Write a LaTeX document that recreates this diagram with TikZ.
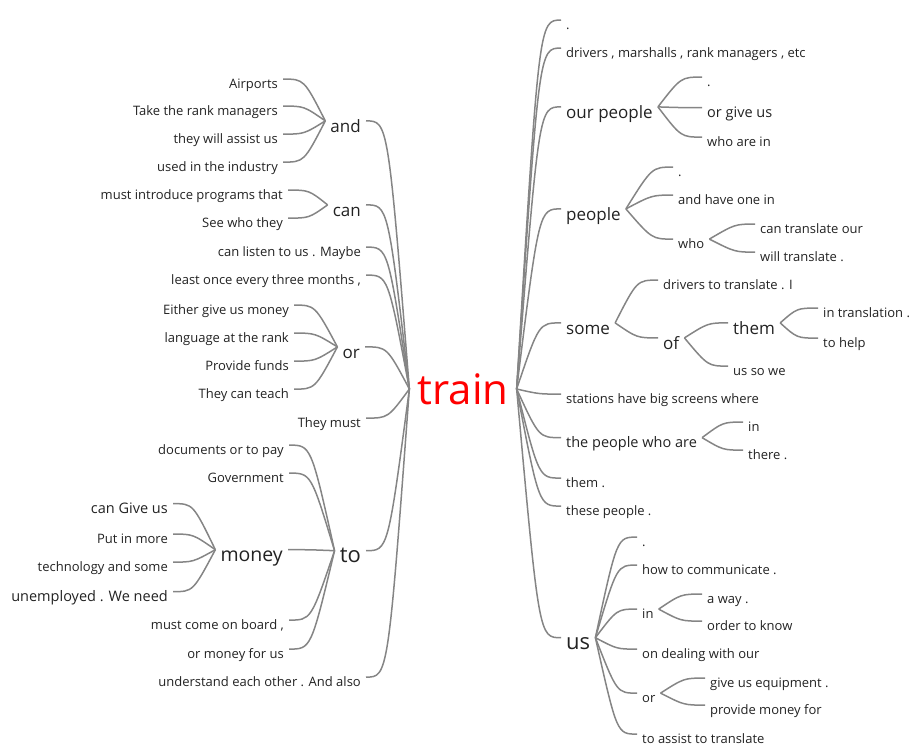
\documentclass[tikz,border=0pt]{standalone}
\usepackage{fontspec}
\setmainfont{Open Sans}
\usepackage{xcolor}
\usepackage{tikz}

\definecolor{linkgray}{HTML}{858585}
\definecolor{wordcol}{HTML}{222222}

\tikzset{
  wbase/.style={text=wordcol, inner xsep=5pt, inner ysep=1pt, text depth=0pt},
  word/.style={wbase, text height=18.2pt, yshift=3.9pt, font=\fontsize{13}{16}\selectfont},
  wordm/.style={wbase, text height=20.3pt, yshift=4.35pt, font=\fontsize{14.5}{17}\selectfont},
  hub/.style={wbase, text height=23.8pt, yshift=5.1pt, font=\fontsize{17}{20}\selectfont},
  bigword/.style={wbase, text height=24.2pt, yshift=3.3pt, font=\fontsize{22}{26}\selectfont},
  rootword/.style={text=red, inner xsep=8pt, inner ysep=1pt, font=\fontsize{42}{48}\selectfont},
  toleft/.style={anchor=east},
  toright/.style={anchor=west},
  link/.style={draw=linkgray, line width=1.5pt}
}

\begin{document}
\begin{tikzpicture}[x=1pt,y=-1pt]
  \useasboundingbox (0,0) rectangle (917,751);

  % root
  \node[rootword] (train) at (463,389) {train};

  % left side
  \node[hub,toleft] (and) at (366,126) {and};
  \node[word,toleft] (a1) at (283,83) {Airports};
  \node[word,toleft] (a2) at (283,110) {Take the rank managers};
  \node[word,toleft] (a3) at (283,138) {they will assist us};
  \node[word,toleft] (a4) at (283,166) {used in the industry};

  \node[hub,toleft] (can) at (366,210) {can};
  \node[word,toleft] (c1) at (288,194) {must introduce programs that};
  \node[word,toleft] (c2) at (288,222) {See who they};

  \node[word,toleft] (l1) at (366,251) {can listen to us . Maybe};
  \node[word,toleft] (l2) at (366,279) {least once every three months ,};

  \node[hub,toleft] (or) at (365,352) {or};
  \node[word,toleft] (o1) at (294,309) {Either give us money};
  \node[word,toleft] (o2) at (294,337) {language at the rank};
  \node[word,toleft] (o3) at (294,365) {Provide funds};
  \node[word,toleft] (o4) at (294,393) {They can teach};

  \node[word,toleft] (l3) at (366,422) {They must};

  \node[bigword,toleft] (to) at (366,554) {to};
  \node[word,toleft] (t1) at (289,449) {documents or to pay};
  \node[word,toleft] (t2) at (289,477) {Government};
  \node[bigword,toleft,font=\fontsize{19.5}{24}\selectfont] (money) at (288,553) {money};
  \node[word,toleft] (t3) at (289,624) {must come on board ,};
  \node[word,toleft] (t4) at (289,653) {or money for us};

  \node[wordm,toleft] (m1) at (173,508) {can Give us};
  \node[word,toleft] (m2) at (173,538) {Put in more};
  \node[word,toleft] (m3) at (173,566) {technology and some};
  \node[wordm,toleft] (m4) at (173,596) {unemployed . We need};

  \node[word,toleft] (l4) at (366,681) {understand each other . And also};

  % right side
  \node[word,toright] (r1) at (561,24) {.};
  \node[word,toright] (r2) at (561,52) {drivers , marshalls , rank managers , etc};

  \node[hub,toright] (ourpeople) at (561,112) {our people};
  \node[word,toright] (op1) at (702,81) {.};
  \node[wordm,toright] (op2) at (702,112) {or give us};
  \node[word,toright] (op3) at (702,141) {who are in};

  \node[hub,toright] (people) at (561,214) {people};
  \node[word,toright] (p1) at (673,171) {.};
  \node[word,toright] (p2) at (673,199) {and have one in};
  \node[word,toright] (who) at (673,243) {who};
  \node[word,toright] (w1) at (755,228) {can translate our};
  \node[word,toright] (w2) at (755,256) {will translate .};

  \node[hub,toright] (some) at (561,328) {some};
  \node[word,toright] (s1) at (658,284) {drivers to translate . I};
  \node[hub,toright] (of) at (658,343) {of};
  \node[hub,toright] (them) at (728,328) {them};
  \node[word,toright] (f2) at (728,370) {us so we};
  \node[word,toright] (th1) at (818,312) {in translation .};
  \node[word,toright] (th2) at (818,342) {to help};

  \node[word,toright] (r3) at (561,398) {stations have big screens where};
  \node[wordm,toright] (tpwa) at (561,442) {the people who are};
  \node[word,toright] (tp1) at (743,426) {in};
  \node[word,toright] (tp2) at (743,454) {there .};
  \node[word,toright] (r4) at (561,482) {them .};
  \node[word,toright] (r5) at (561,510) {these people .};

  \node[bigword,toright] (us) at (561,641) {us};
  \node[word,toright] (u1) at (637,541) {.};
  \node[word,toright] (u2) at (637,569) {how to communicate .};
  \node[word,toright] (uin) at (637,613) {in};
  \node[word,toright] (ui1) at (702,598) {a way .};
  \node[word,toright] (ui2) at (702,625) {order to know};
  \node[word,toright] (u3) at (637,653) {on dealing with our};
  \node[word,toright] (uor) at (637,697) {or};
  \node[word,toright] (uo1) at (705,682) {give us equipment .};
  \node[word,toright] (uo2) at (705,709) {provide money for};
  \node[word,toright] (u4) at (637,738) {to assist to translate};

  % links, left
  \foreach \c in {and,can,l1,l2,or,l3,to,l4}
    \draw[link] (\c.east) .. controls +(22,0) .. (train.west);
  \foreach \c in {a1,a2,a3,a4}
    \draw[link] (\c.east) .. controls +(21,0) .. (and.west);
  \foreach \c in {c1,c2}
    \draw[link] (\c.east) .. controls +(21,0) .. (can.west);
  \foreach \c in {o1,o2,o3,o4}
    \draw[link] (\c.east) .. controls +(21,0) .. (or.west);
  \foreach \c in {t1,t2,money,t3,t4}
    \draw[link] (\c.east) .. controls +(22,0) .. (to.west);
  \foreach \c in {m1,m2,m3,m4}
    \draw[link] (\c.east) .. controls +(20,0) .. (money.west);

  % links, right
  \foreach \c in {r1,r2,ourpeople,people,some,r3,tpwa,r4,r5,us}
    \draw[link] (\c.west) .. controls +(-22,0) .. (train.east);
  \foreach \c in {op1,op2,op3}
    \draw[link] (\c.west) .. controls +(-21,0) .. (ourpeople.east);
  \foreach \c in {p1,p2,who}
    \draw[link] (\c.west) .. controls +(-21,0) .. (people.east);
  \foreach \c in {w1,w2}
    \draw[link] (\c.west) .. controls +(-20,0) .. (who.east);
  \foreach \c in {s1,of}
    \draw[link] (\c.west) .. controls +(-21,0) .. (some.east);
  \foreach \c in {them,f2}
    \draw[link] (\c.west) .. controls +(-20,0) .. (of.east);
  \foreach \c in {th1,th2}
    \draw[link] (\c.west) .. controls +(-21,0) .. (them.east);
  \foreach \c in {tp1,tp2}
    \draw[link] (\c.west) .. controls +(-20,0) .. (tpwa.east);
  \foreach \c in {u1,u2,uin,u3,uor,u4}
    \draw[link] (\c.west) .. controls +(-20,0) .. (us.east);
  \foreach \c in {ui1,ui2}
    \draw[link] (\c.west) .. controls +(-21,0) .. (uin.east);
  \foreach \c in {uo1,uo2}
    \draw[link] (\c.west) .. controls +(-21,0) .. (uor.east);
\end{tikzpicture}
\end{document}
